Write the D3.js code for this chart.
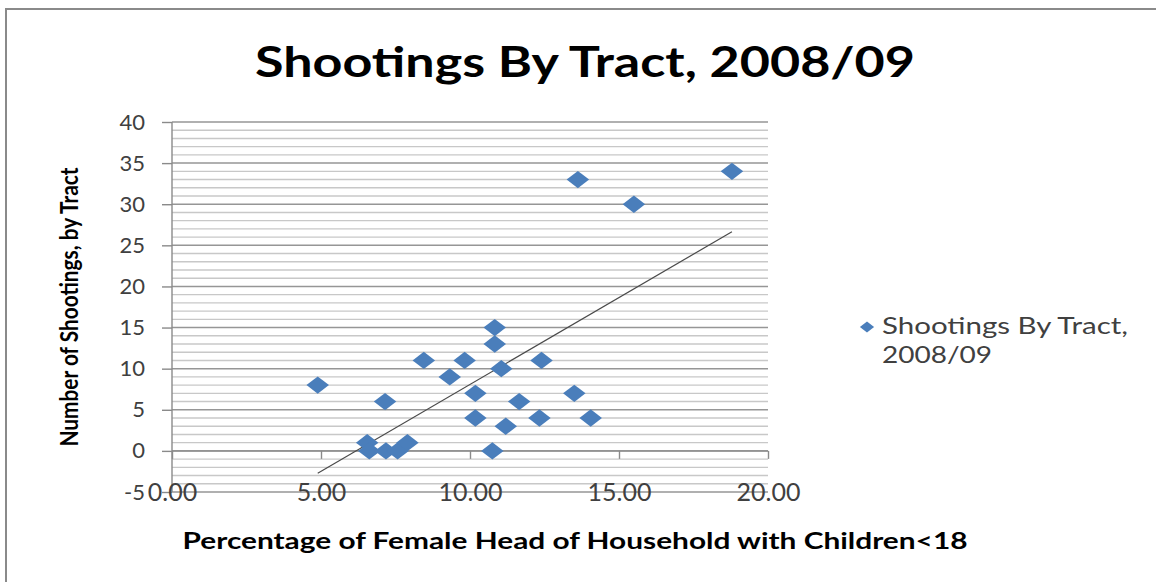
<!DOCTYPE html>
<html>
<head>
<meta charset="utf-8">
<script src="https://cdn.jsdelivr.net/npm/d3@7"></script>
<style>
  html, body { margin: 0; padding: 0; background: #ffffff; }
  svg { display: block; }
</style>
</head>
<body>
<svg id="chart" width="1156" height="582"></svg>
<script>
// Shootings per census tract vs. share of female-headed households with children
const pctFemaleHead = [4.89, 6.55, 6.62, 7.15, 7.18, 7.57, 7.90, 8.45, 9.32, 9.82, 10.18, 10.18, 10.75,
                       10.83, 10.83, 11.05, 11.20, 11.65, 12.33, 12.40, 13.50, 14.05, 13.62, 15.50, 18.79];
const shootings     = [8, 1, 0, 6, 0, 0, 1, 11, 9, 11, 7, 4, 0,
                       13, 15, 10, 3, 6, 4, 11, 7, 4, 33, 30, 34];
const xTicks = [0, 5, 10, 15, 20];
const yTicks = [-5, 0, 5, 10, 15, 20, 25, 30, 35, 40];
const yMinorStep = 1;
const seriesName = ["Shootings By Tract,", "2008/09"];
const chartTitle = "Shootings By Tract, 2008/09";
const xTitle = "Percentage of Female Head of Household with Children<18";
const yTitle = "Number of Shootings, by Tract";

const FONT = "Lato, 'Open Sans', sans-serif";
const svg = d3.select("#chart");

const x = d3.scaleLinear().domain([0, 20]).range([172, 768]);
const y = d3.scaleLinear().domain([-5, 40]).range([492, 122]);

// outer chart frame
svg.append("rect")
  .attr("x", 6).attr("y", 9).attr("width", 1200).attr("height", 620)
  .attr("fill", "#fff").attr("stroke", "#8a8a8a").attr("stroke-width", 2);

// title
svg.append("text")
  .attr("x", 585).attr("y", 77)
  .attr("text-anchor", "middle")
  .attr("font-family", FONT).attr("font-weight", 700).attr("font-size", 42)
  .attr("textLength", 660).attr("lengthAdjust", "spacingAndGlyphs")
  .attr("fill", "#000")
  .text(chartTitle);

// gridlines: minor every unit, major every 5
const minorVals = d3.range(y.domain()[0], y.domain()[1] + 0.001, yMinorStep).filter(v => v % 5 !== 0);
svg.append("g").selectAll("line").data(minorVals).join("line")
  .attr("x1", x(0)).attr("x2", x(20))
  .attr("y1", d => y(d)).attr("y2", d => y(d))
  .attr("stroke", "#c8c8c8").attr("stroke-width", 1.4);
svg.append("g").selectAll("line").data(yTicks).join("line")
  .attr("x1", x(0)).attr("x2", x(20))
  .attr("y1", d => y(d)).attr("y2", d => y(d))
  .attr("stroke", "#969696").attr("stroke-width", 1.5);

// y axis with labels
const yAxis = svg.append("g")
  .attr("transform", `translate(${x(0)},0)`)
  .call(d3.axisLeft(y).tickValues(yTicks).tickSize(10).tickPadding(17).tickFormat(d => String(d)));
yAxis.select(".domain").attr("stroke", "#8a8a8a").attr("stroke-width", 1.4)
  .attr("d", `M0,${y(40)}V${y(-5)}`);
yAxis.selectAll(".tick line").attr("stroke", "#8a8a8a").attr("stroke-width", 1.4);
yAxis.selectAll(".tick text")
  .attr("font-family", FONT).attr("font-size", 22).attr("fill", "#404040");

// x axis line crossing at zero, ticks only
const xAxisLine = svg.append("g")
  .attr("transform", `translate(0,${y(0)})`)
  .call(d3.axisBottom(x).tickValues(xTicks).tickSize(8).tickFormat(""));
xAxisLine.select(".domain").attr("stroke", "#8a8a8a").attr("stroke-width", 1.4)
  .attr("d", `M${x(0)},0H${x(20)}`);
xAxisLine.selectAll(".tick line").attr("stroke", "#8a8a8a").attr("stroke-width", 1.4);

// x tick labels at the bottom edge of the plot
const xLabels = svg.append("g")
  .attr("transform", `translate(0,${y(-5)})`)
  .call(d3.axisBottom(x).tickValues(xTicks).tickSize(0).tickFormat(d3.format(".2f")));
xLabels.select(".domain").remove();
xLabels.selectAll(".tick text")
  .attr("y", 0).attr("dy", "0.36em")
  .attr("font-family", FONT).attr("font-size", 25).attr("fill", "#404040");

// linear trendline (least squares)
const n = pctFemaleHead.length;
const mx = d3.mean(pctFemaleHead), my = d3.mean(shootings);
let sxy = 0, sxx = 0;
for (let i = 0; i < n; i++) {
  sxy += (pctFemaleHead[i] - mx) * (shootings[i] - my);
  sxx += (pctFemaleHead[i] - mx) ** 2;
}
const slope = sxy / sxx, intercept = my - slope * mx;
const [xMin, xMax] = d3.extent(pctFemaleHead);
svg.append("path")
  .datum([xMin, xMax])
  .attr("d", d3.line().x(d => x(d)).y(d => y(intercept + slope * d)))
  .attr("fill", "none").attr("stroke", "#4a4a4a").attr("stroke-width", 1.2);

// diamond markers
const diamond = d3.symbol().type(d3.symbolSquare).size(150);
svg.append("g").selectAll("path").data(d3.range(n)).join("path")
  .attr("d", diamond)
  .attr("transform", i => `translate(${x(pctFemaleHead[i])},${y(shootings[i])}) scale(1.3,1) rotate(45)`)
  .attr("fill", "#4a7ebb");

// y axis title
svg.append("text")
  .attr("transform", "translate(78,307) scale(1.3,1) rotate(-90)")
  .attr("text-anchor", "middle")
  .attr("font-family", FONT).attr("font-weight", 700).attr("font-size", 19)
  .attr("textLength", 279).attr("lengthAdjust", "spacingAndGlyphs")
  .attr("fill", "#000")
  .text(yTitle);

// x axis title
svg.append("text")
  .attr("x", 575).attr("y", 549)
  .attr("text-anchor", "middle")
  .attr("font-family", FONT).attr("font-weight", 700).attr("font-size", 23)
  .attr("textLength", 785).attr("lengthAdjust", "spacingAndGlyphs")
  .attr("fill", "#000")
  .text(xTitle);

// legend
const legend = svg.append("g");
legend.append("path")
  .attr("d", d3.symbol().type(d3.symbolSquare).size(60))
  .attr("transform", "translate(867,327) scale(1.3,1) rotate(45)")
  .attr("fill", "#4a7ebb");
legend.selectAll("text").data(seriesName).join("text")
  .attr("x", 882).attr("y", (d, i) => 334 + i * 29)
  .attr("font-family", FONT).attr("font-size", 23).attr("fill", "#404040")
  .attr("textLength", (d, i) => i === 0 ? 246 : 110).attr("lengthAdjust", "spacingAndGlyphs")
  .text(d => d);
</script>
</body>
</html>
